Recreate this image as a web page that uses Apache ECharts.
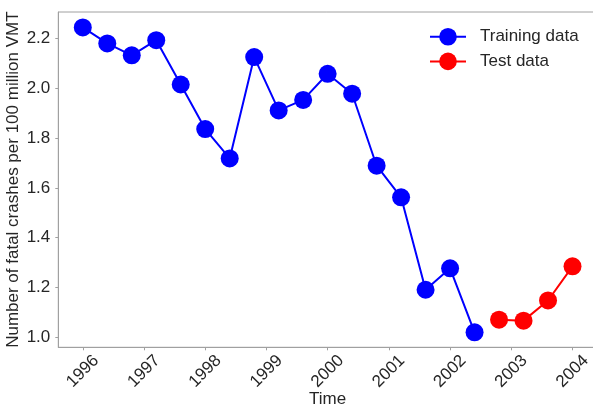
<!DOCTYPE html>
<html>
<head>
<meta charset="utf-8">
<script src="https://cdn.jsdelivr.net/npm/echarts@6/dist/echarts.min.js"></script>
<style>html,body{margin:0;padding:0;background:#fff}#c{width:593px;height:411px}</style>
</head>
<body>
<div id="c"></div>
<script>
const trainTimes = [1996.0, 1996.4, 1996.8, 1997.2, 1997.6, 1998.0, 1998.4, 1998.8, 1999.2, 1999.6, 2000.0, 2000.4, 2000.8, 2001.2, 2001.6, 2002.0, 2002.4];
const trainValues = [2.244, 2.180, 2.132, 2.193, 2.015, 1.836, 1.718, 2.125, 1.911, 1.953, 2.058, 1.978, 1.689, 1.562, 1.191, 1.277, 1.020];
const testTimes = [2002.8, 2003.2, 2003.6, 2004.0];
const testValues = [1.071, 1.067, 1.148, 1.285];
const xTicks = [1996, 1997, 1998, 1999, 2000, 2001, 2002, 2003, 2004];
const yTicks = [1.0, 1.2, 1.4, 1.6, 1.8, 2.0, 2.2];

const textColor = '#262626';
const spineColor = '#a0a0a0';
const font = 'Liberation Sans, Arial, sans-serif';

const chart = echarts.init(document.getElementById('c'), null, {renderer: 'canvas'});
chart.setOption({
  animation: false,
  backgroundColor: '#fff',
  grid: {left: 58.3, right: -4, top: 12, bottom: 63.7, containLabel: false, outerBoundsMode: 'none',
    show: true, borderColor: spineColor, borderWidth: 1},
  legend: {
    orient: 'vertical', left: 429, top: 28, padding: 0, itemGap: 7,
    itemWidth: 36, itemHeight: 22,
    textStyle: {fontFamily: font, fontSize: 17, color: textColor, padding: [0, 0, 0, 9]},
    data: ['Training data', 'Test data']
  },
  xAxis: {
    type: 'value', min: 1995.6, max: 2004.4,
    name: 'Time', nameLocation: 'middle', nameGap: 44, nameMoveOverlap: false,
    nameTextStyle: {fontFamily: font, fontSize: 17, color: textColor},
    axisLine: {show: true, lineStyle: {color: spineColor, width: 1}},
    axisTick: {show: true, length: 3, inside: false, customValues: xTicks, lineStyle: {color: spineColor}},
    axisLabel: {customValues: xTicks, rotate: 45, align: 'center', verticalAlign: 'middle', margin: 24,
      fontFamily: font, fontSize: 17, color: textColor, formatter: v => String(Math.round(v))},
    splitLine: {show: false}
  },
  yAxis: {
    type: 'value', min: 0.96, max: 2.306,
    name: 'Number of fatal crashes per 100 million VMT', nameLocation: 'middle', nameGap: 36, nameMoveOverlap: false,
    nameTextStyle: {fontFamily: font, fontSize: 17, color: textColor},
    axisLine: {show: true, lineStyle: {color: spineColor, width: 1}},
    axisTick: {show: true, length: 3, customValues: yTicks, lineStyle: {color: spineColor}},
    axisLabel: {customValues: yTicks, margin: 8, fontFamily: font, fontSize: 17, color: textColor,
      formatter: v => v.toFixed(1)},
    splitLine: {show: false}
  },
  series: [
    {
      name: 'Training data', type: 'line',
      data: trainTimes.map((t, i) => [t, trainValues[i]]),
      symbol: 'circle', symbolSize: 18, showAllSymbol: true,
      itemStyle: {color: '#0000ff'}, lineStyle: {color: '#0000ff', width: 2}
    },
    {
      name: 'Test data', type: 'line',
      data: testTimes.map((t, i) => [t, testValues[i]]),
      symbol: 'circle', symbolSize: 18, showAllSymbol: true,
      itemStyle: {color: '#ff0000'}, lineStyle: {color: '#ff0000', width: 2}
    }
  ]
});
</script>
</body>
</html>
